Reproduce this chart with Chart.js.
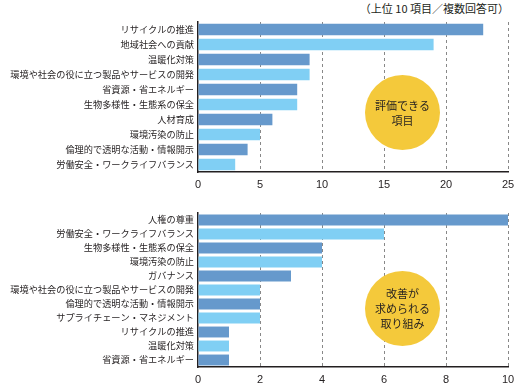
<!DOCTYPE html>
<html lang="ja">
<head>
<meta charset="utf-8">
<script src="https://cdn.jsdelivr.net/npm/chart.js@4"></script>
<style>
  body { margin: 0; background: #fff; font-family: "Noto Sans CJK JP", sans-serif; }
  #wrap { position: relative; width: 517px; height: 390px; }
  .box { position: absolute; left: 0; width: 517px; }
  .note { position: absolute; right: 8px; top: 0; font-size: 11px; color: #231f20; line-height: 16px; }
  .circle { position: absolute; width: 75px; height: 75px; border-radius: 50%; background: #f4c93b;
            display: flex; align-items: center; justify-content: center; text-align: center;
            font-size: 11px; line-height: 15px; color: #231f20; }
</style>
</head>
<body>
<div id="wrap">
  <div class="note">（上位 10 項目／複数回答可）</div>
  <div class="box" style="top:0;height:195px"><canvas id="chartTop"></canvas></div>
  <div class="box" style="top:195px;height:195px"><canvas id="chartBottom"></canvas></div>
  <div class="circle" style="left:365px;top:75px">評価できる<br>項目</div>
  <div class="circle" style="left:365px;top:271px">改善が<br>求められる<br>取り組み</div>
</div>
<script>
// 評価できる項目
const categoriasTop = [
  'リサイクルの推進', '地域社会への貢献', '温暖化対策', '環境や社会の役に立つ製品やサービスの開発',
  '省資源・省エネルギー', '生物多様性・生態系の保全', '人材育成', '環境汚染の防止',
  '倫理的で透明な活動・情報開示', '労働安全・ワークライフバランス'
];
const valoresTop = [23, 19, 9, 9, 8, 8, 6, 5, 4, 3];
const ticksTop = [0, 5, 10, 15, 20, 25];

// 改善が求められる取り組み
const categoriasBottom = [
  '人権の尊重', '労働安全・ワークライフバランス', '生物多様性・生態系の保全', '環境汚染の防止',
  'ガバナンス', '環境や社会の役に立つ製品やサービスの開発', '倫理的で透明な活動・情報開示',
  'サプライチェーン・マネジメント', 'リサイクルの推進', '温暖化対策', '省資源・省エネルギー'
];
const valoresBottom = [10, 6, 4, 4, 3, 2, 2, 2, 1, 1, 1];
const ticksBottom = [0, 2, 4, 6, 8, 10];

const corEscura = '#6699cc';
const corClara = '#80cff4';

function criarGrafico(id, categorias, valores, ticks, topo) {
  const max = ticks[ticks.length - 1];
  const passo = ticks[1] - ticks[0];
  new Chart(document.getElementById(id), {
    type: 'bar',
    data: {
      labels: categorias,
      datasets: [{
        data: valores,
        backgroundColor: valores.map((v, i) => i % 2 === 0 ? corEscura : corClara),
        borderWidth: 0,
        barPercentage: 0.78,
        categoryPercentage: 1
      }]
    },
    options: {
      indexAxis: 'y',
      responsive: true,
      maintainAspectRatio: false,
      animation: false,
      layout: { padding: { top: topo, right: 9, left: 0, bottom: 0 } },
      plugins: { legend: { display: false }, tooltip: { enabled: false } },
      scales: {
        x: {
          min: 0, max: max,
          ticks: { stepSize: passo, color: '#231f20', font: { size: 11, family: 'Liberation Sans' }, padding: 6 },
          grid: {
            drawTicks: false,
            color: ctx => ctx.tick && ctx.tick.value === 0 ? 'rgba(0,0,0,0)' : '#888',
            lineWidth: 1
          },
          border: { display: true, color: '#231f20', width: 1.5, dash: [3, 3] },
          afterFit: s => { s.height = 23; s.paddingLeft = 0; s.paddingRight = 0; }
        },
        y: {
          ticks: { color: '#231f20', font: { size: 9.2, family: 'Noto Sans CJK JP' }, padding: 4, autoSkip: false },
          grid: { display: false, drawTicks: false },
          border: { display: true, color: '#231f20', width: 1.5 },
          afterFit: s => { s.width = 198; }
        }
      }
    }
  });
}

criarGrafico('chartTop', categoriasTop, valoresTop, ticksTop, 22);
criarGrafico('chartBottom', categoriasBottom, valoresBottom, ticksBottom, 18);
</script>
</body>
</html>
